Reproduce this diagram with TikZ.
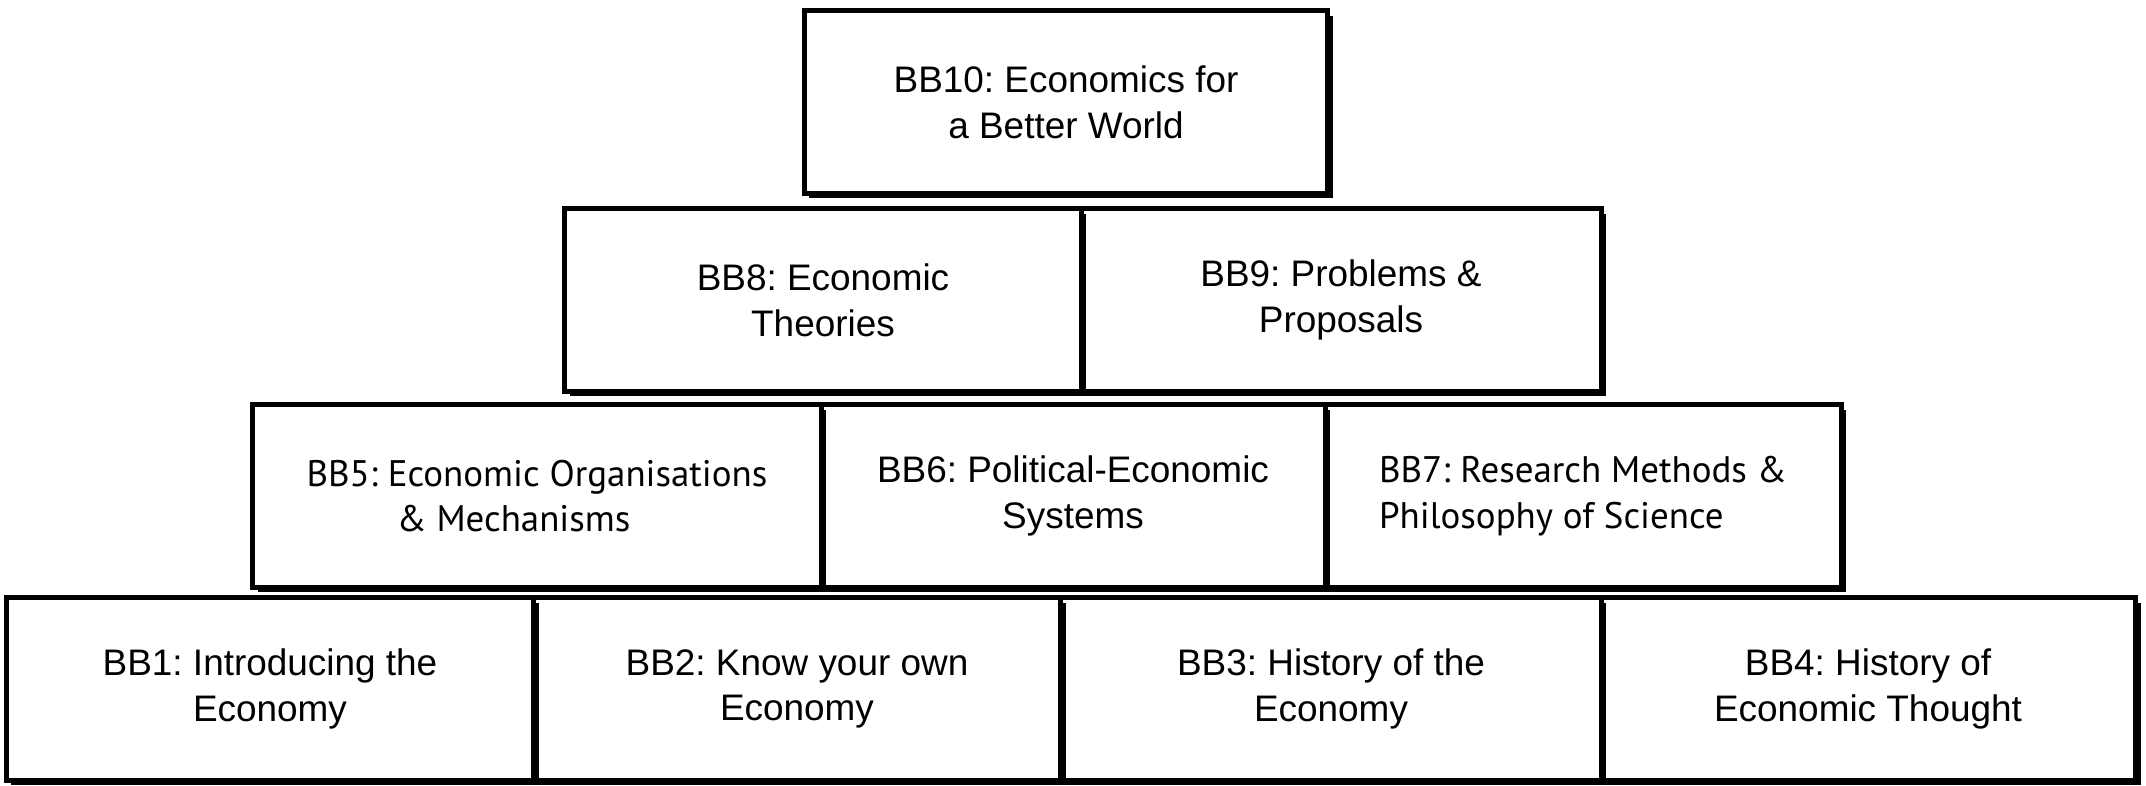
\documentclass[tikz,border=0pt]{standalone}
\usepackage{fontspec}
\setmainfont{Liberation Sans}
\newfontfamily\narrowfont{PT Sans}
\usepackage{tikz}
\usetikzlibrary{shadows}
\frenchspacing

\begin{document}
\begin{tikzpicture}[x=0.01cm,y=-0.01cm,
  block/.style={draw,fill=white,line width=1.4pt,rectangle,align=center,
    minimum height=1.82cm,font=\fontsize{10.5}{13}\selectfont,
    drop shadow={shadow xshift=1.4pt,shadow yshift=-1.4pt,fill=black,opacity=1}},
  narrow/.style={font=\narrowfont\fontsize{10.5}{13}\selectfont,align=left}]
  \useasboundingbox (0,0) rectangle (2146,786);
  % bottom row, drawn right to left so every shadow stays on top
  \node[block,minimum width=5.35cm] (bb4) at (1868,689) {BB4: History of\\Economic Thought};
  \node[block,minimum width=5.40cm] (bb3) at (1331,689) {BB3: History of the\\Economy};
  \node[block,minimum width=5.27cm] (bb2) at (797,689) {BB2: Know your own\\Economy};
  \node[block,minimum width=5.27cm] (bb1) at (270,689) {BB1: Introducing the\\Economy};
  % third row
  \node[block,narrow,minimum width=5.16cm] (bb7) at (1583,496) {BB7: Research Methods \&\\Philosophy of Science};
  \node[block,minimum width=5.04cm] (bb6) at (1073,496) {BB6: Political-Economic\\Systems};
  \node[block,narrow,minimum width=5.68cm] (bb5) at (537,496) {BB5: Economic Organisations\\\hspace*{0.9cm}\& Mechanisms};
  % second row
  \node[block,minimum width=5.20cm] (bb9) at (1341,300) {BB9: Problems \&\\Proposals};
  \node[block,minimum width=5.16cm] (bb8) at (823,300) {BB8: Economic\\Theories};
  % top
  \node[block,minimum width=5.23cm] (bb10) at (1066,102) {BB10: Economics for\\a Better World};
\end{tikzpicture}
\end{document}
